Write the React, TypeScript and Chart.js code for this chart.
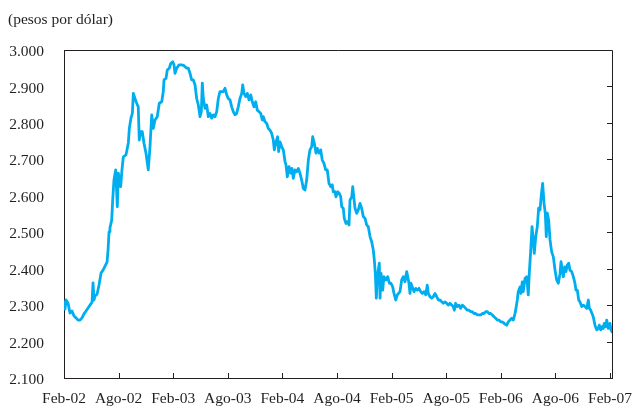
import { useEffect, useRef } from 'react';
import { Chart, registerables } from 'chart.js';

Chart.register(...registerables);

// Tick labels on the time axis (one every six months, Feb-02 = month 0)
const tickLabels = ['Feb-02', 'Ago-02', 'Feb-03', 'Ago-03', 'Feb-04', 'Ago-04', 'Feb-05', 'Ago-05', 'Feb-06', 'Ago-06', 'Feb-07'];
const tickMonths = [0, 6, 12, 18, 24, 30, 36, 42, 48, 54, 60];
const yTicks = [2100, 2200, 2300, 2400, 2500, 2600, 2700, 2800, 2900, 3000];

// [months since Feb-2002, pesos por dólar]
const serie2002: [number, number][] = [
  [0, 2308], [0.11, 2289], [0.22, 2314], [0.44, 2306], [0.66, 2278], [0.88, 2284], [1.1, 2270], [1.32, 2265],
  [1.54, 2259], [1.76, 2259], [1.98, 2265], [2.2, 2276], [2.42, 2284], [2.64, 2292], [2.86, 2300], [3.08, 2308],
  [3.19, 2361], [3.3, 2314], [3.41, 2325], [3.63, 2330], [3.85, 2355], [4.07, 2388], [4.29, 2396], [4.51, 2407],
  [4.73, 2418], [4.84, 2451], [4.95, 2501], [5.05, 2512], [5.24, 2533], [5.35, 2588], [5.49, 2643], [5.68, 2671],
  [5.86, 2570], [5.97, 2662], [6.23, 2625], [6.37, 2671], [6.52, 2707], [6.81, 2712], [7.07, 2745], [7.18, 2785],
  [7.36, 2813], [7.51, 2826], [7.62, 2881], [7.8, 2867], [7.99, 2854], [8.16, 2844], [8.27, 2753], [8.43, 2776],
  [8.6, 2776], [8.79, 2744], [9.01, 2717], [9.26, 2671], [9.45, 2735], [9.64, 2822], [9.81, 2785], [10.0, 2808],
  [10.25, 2817], [10.47, 2854], [10.74, 2858], [10.91, 2886],
];
const serie2003: [number, number][] = [
  [10.99, 2918], [11.21, 2922], [11.35, 2945], [11.57, 2950], [11.73, 2963], [11.95, 2968], [12.09, 2959], [12.2, 2936],
  [12.38, 2950], [12.64, 2959], [12.93, 2959], [13.19, 2957], [13.48, 2950], [13.66, 2950], [13.85, 2936], [14.03, 2918],
  [14.21, 2918], [14.4, 2904], [14.58, 2867], [14.76, 2849], [14.95, 2817], [15.09, 2831], [15.2, 2909], [15.31, 2867],
  [15.49, 2840], [15.68, 2849], [15.86, 2817], [16.04, 2826], [16.23, 2813], [16.41, 2822], [16.59, 2817], [16.78, 2831],
  [16.96, 2867], [17.14, 2886], [17.33, 2886], [17.51, 2886], [17.69, 2895], [17.88, 2877], [18.05, 2867], [18.24, 2863],
  [18.43, 2844], [18.6, 2831], [18.79, 2822], [18.97, 2826], [19.15, 2844], [19.34, 2867], [19.53, 2881], [19.64, 2904],
  [19.78, 2881], [19.97, 2872], [20.14, 2881], [20.33, 2863], [20.52, 2877], [20.69, 2858], [20.88, 2844], [21.07, 2858],
  [21.24, 2835], [21.43, 2831], [21.62, 2826], [21.79, 2808], [21.9, 2817], [22.09, 2803], [22.27, 2799], [22.45, 2785],
  [22.64, 2780], [22.82, 2771],
];
const serie2004: [number, number][] = [
  [23.0, 2753], [23.11, 2726], [23.3, 2748], [23.48, 2762], [23.59, 2721], [23.74, 2748], [23.92, 2735], [24.1, 2726],
  [24.29, 2694], [24.4, 2684], [24.54, 2652], [24.73, 2680], [24.91, 2662], [25.05, 2675], [25.2, 2648], [25.38, 2671],
  [25.57, 2666], [25.75, 2675], [25.93, 2662], [26.12, 2643], [26.3, 2620], [26.48, 2616], [26.67, 2643], [26.85, 2698],
  [27.03, 2726], [27.22, 2735], [27.33, 2762], [27.51, 2744], [27.69, 2717], [27.84, 2730], [28.02, 2717], [28.21, 2726],
  [28.38, 2698], [28.57, 2689], [28.76, 2671], [28.93, 2671], [29.12, 2634], [29.31, 2625], [29.48, 2630], [29.59, 2611],
  [29.78, 2611], [29.89, 2597], [30.08, 2611], [30.25, 2607], [30.41, 2597], [30.52, 2570], [30.69, 2566], [30.8, 2538],
  [30.99, 2524], [31.13, 2529], [31.32, 2520], [31.43, 2588], [31.62, 2597], [31.73, 2625], [31.84, 2597], [31.98, 2566],
  [32.16, 2552], [32.34, 2561], [32.53, 2579], [32.71, 2566], [32.89, 2543], [33.08, 2538], [33.26, 2520], [33.44, 2515],
  [33.63, 2488], [33.81, 2474], [33.99, 2451], [34.1, 2424], [34.21, 2387], [34.32, 2319], [34.43, 2378], [34.54, 2396],
  [34.65, 2415], [34.73, 2319], [34.84, 2387],
];
const serie2005: [number, number][] = [
  [35.02, 2341], [35.16, 2378], [35.38, 2369], [35.57, 2378], [35.75, 2360], [35.93, 2360], [36.12, 2350], [36.26, 2332],
  [36.45, 2314], [36.63, 2328], [36.92, 2337], [37.11, 2369], [37.29, 2378], [37.47, 2364], [37.66, 2392], [37.77, 2378],
  [37.91, 2360], [38.02, 2332], [38.13, 2360], [38.27, 2350], [38.46, 2337], [38.65, 2346], [38.82, 2341], [39.01, 2346],
  [39.2, 2337], [39.37, 2332], [39.56, 2337], [39.75, 2328], [39.92, 2355], [40.03, 2332], [40.22, 2323], [40.41, 2319],
  [40.58, 2323], [40.77, 2332], [40.96, 2323], [41.13, 2314], [41.32, 2314], [41.51, 2309], [41.68, 2305], [41.87, 2309],
  [42.05, 2305], [42.23, 2300], [42.42, 2305], [42.6, 2300], [42.78, 2296], [42.89, 2286], [43.04, 2305], [43.22, 2296],
  [43.41, 2300], [43.59, 2291], [43.77, 2300], [43.96, 2296], [44.14, 2291], [44.32, 2286], [44.51, 2286], [44.69, 2282],
  [44.87, 2282], [45.05, 2277], [45.24, 2277], [45.42, 2273], [45.6, 2273], [45.79, 2273], [45.97, 2277], [46.15, 2277],
  [46.34, 2282], [46.52, 2282], [46.7, 2277], [46.89, 2277],
];
const serie2006: [number, number][] = [
  [47.07, 2273], [47.25, 2268], [47.44, 2264], [47.62, 2259], [47.8, 2259], [47.99, 2254], [48.16, 2254], [48.27, 2252],
  [48.46, 2248], [48.65, 2245], [48.82, 2254], [49.01, 2259], [49.2, 2264], [49.37, 2259], [49.56, 2277], [49.67, 2291],
  [49.81, 2314], [49.92, 2337], [50.11, 2350], [50.22, 2332], [50.36, 2364], [50.47, 2337], [50.66, 2373], [50.85, 2378],
  [51.02, 2328], [51.13, 2387], [51.29, 2451], [51.43, 2515], [51.57, 2479], [51.68, 2442], [51.84, 2488], [52.01, 2515],
  [52.16, 2566], [52.31, 2561], [52.45, 2602], [52.6, 2634], [52.75, 2579], [52.89, 2552], [53.0, 2488], [53.11, 2552],
  [53.26, 2533], [53.41, 2479], [53.59, 2446], [53.77, 2433], [53.96, 2396], [54.14, 2369], [54.32, 2360], [54.51, 2387],
  [54.62, 2419], [54.76, 2396], [54.87, 2378], [55.02, 2405], [55.16, 2392], [55.31, 2410], [55.46, 2415], [55.6, 2396],
  [55.79, 2392], [55.97, 2378], [56.15, 2360], [56.26, 2341], [56.41, 2341], [56.56, 2314], [56.7, 2309], [56.89, 2296],
  [57.07, 2300], [57.25, 2296], [57.44, 2291], [57.62, 2314], [57.73, 2291], [57.88, 2286], [58.02, 2277], [58.16, 2268],
  [58.35, 2245], [58.54, 2232], [58.71, 2236], [58.82, 2245],
];
const serie2007: [number, number][] = [
  [58.98, 2232], [59.12, 2241], [59.26, 2236], [59.37, 2250], [59.53, 2241], [59.64, 2259], [59.81, 2236], [60.0, 2250],
  [60.11, 2232], [60.22, 2227],
];

const FONT = 'Liberation Serif, "Times New Roman", serif';
const INK = '#231f20';
const LINE = '#00aeef';

const formatPesos = (v: number) => {
  const s = String(Math.round(v));
  return s.slice(0, s.length - 3) + '.' + s.slice(-3);
};

const framePlugin = {
  id: 'frame',
  afterDraw(chart: any) {
    const { ctx, chartArea } = chart;
    const { left, right, top, bottom } = chartArea;
    const xs = chart.scales.x;
    const ys = chart.scales.y;
    ctx.save();
    ctx.strokeStyle = INK;
    ctx.lineWidth = 1;
    ctx.beginPath();
    ctx.moveTo(left, Math.round(top) + 0.5);
    ctx.lineTo(Math.round(right) + 0.5, Math.round(top) + 0.5);
    ctx.lineTo(Math.round(right) + 0.5, bottom);
    // inward ticks on the right border
    yTicks.slice(1, -1).forEach((v) => {
      const y = Math.round(ys.getPixelForValue(v)) + 0.5;
      ctx.moveTo(Math.round(right) + 0.5, y);
      ctx.lineTo(Math.round(right) - 5, y);
    });
    // inward ticks on the time axis
    tickMonths.slice(1).forEach((m) => {
      const x = Math.round(xs.getPixelForValue(m)) + 0.5;
      ctx.moveTo(x, Math.round(bottom));
      ctx.lineTo(x, Math.round(bottom) - 5);
    });
    ctx.stroke();
    ctx.restore();
  },
};

export default function App() {
  const ref = useRef<HTMLCanvasElement>(null);

  useEffect(() => {
    const all = [...serie2002, ...serie2003, ...serie2004, ...serie2005, ...serie2006, ...serie2007];
    const data = all.map(([x, y]) => ({ x, y }));
    const chart = new Chart(ref.current as HTMLCanvasElement, {
      type: 'line',
      data: {
        datasets: [
          {
            data,
            borderColor: LINE,
            borderWidth: 2.8,
            borderJoinStyle: 'round',
            borderCapStyle: 'round',
            pointRadius: 0,
            tension: 0,
            fill: false,
          },
        ],
      },
      options: {
        animation: false,
        responsive: true,
        maintainAspectRatio: false,
        layout: { padding: { left: 8, right: 21, top: 0, bottom: 0 } },
        plugins: {
          legend: { display: false },
          tooltip: { enabled: false },
          title: {
            display: true,
            text: '(pesos por dólar)',
            align: 'start',
            color: INK,
            font: { family: FONT, size: 15.5, weight: 'normal' },
            padding: { top: 11, bottom: 20.4 },
          },
        },
        scales: {
          x: {
            type: 'linear',
            min: 0,
            max: serie2007[serie2007.length - 1][0],
            afterBuildTicks: (scale: any) => {
              scale.ticks = tickMonths.map((value) => ({ value }));
            },
            afterFit: (scale: any) => {
              scale.height = 30;
              scale.paddingLeft = 0;
              scale.paddingRight = 0;
            },
            ticks: {
              autoSkip: false,
              maxRotation: 0,
              padding: 11.5,
              color: INK,
              font: { family: FONT, size: 15.5 },
              callback: (v: any) => {
                const i = tickMonths.indexOf(Number(v));
                return i >= 0 ? tickLabels[i] : '';
              },
            },
            grid: { display: true, drawOnChartArea: false, drawTicks: false },
            border: { display: true, color: INK, width: 1 },
          },
          y: {
            type: 'linear',
            min: yTicks[0],
            max: yTicks[yTicks.length - 1],
            afterBuildTicks: (scale: any) => {
              scale.ticks = yTicks.map((value) => ({ value }));
            },
            afterFit: (scale: any) => {
              scale.width = 56;
            },
            ticks: {
              padding: 20,
              labelOffset: 2,
              color: INK,
              font: { family: FONT, size: 15.5 },
              callback: (v: any) => formatPesos(Number(v)),
            },
            grid: { display: true, drawOnChartArea: false, drawTicks: false },
            border: { display: true, color: INK, width: 1 },
          },
        },
      },
      plugins: [framePlugin],
    } as any);
    return () => chart.destroy();
  }, []);

  return (
    <div style={{ position: 'absolute', left: 0, top: 0, width: 633, height: 408, background: '#fff' }}>
      <canvas ref={ref} />
    </div>
  );
}
